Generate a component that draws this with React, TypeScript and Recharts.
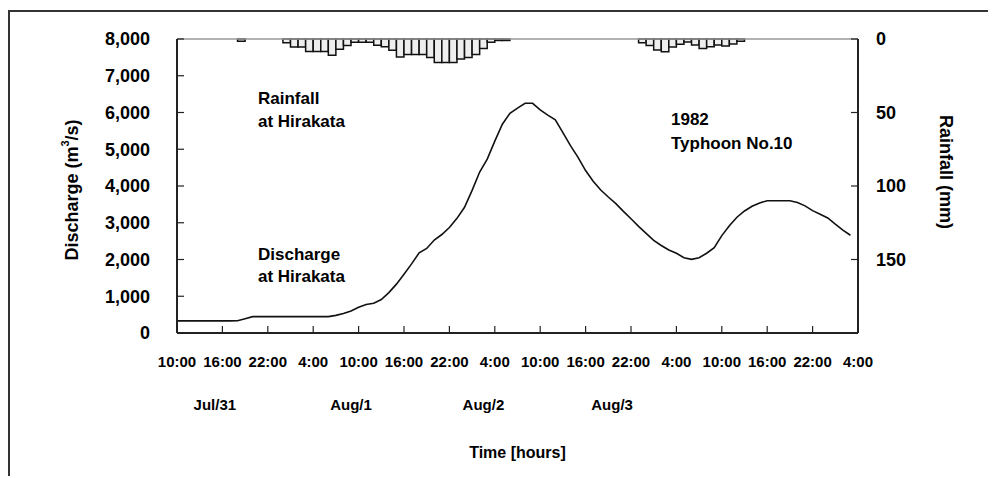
import { Bar, ComposedChart, Label, Line, ReferenceLine, XAxis, YAxis } from "recharts"

const FONT = "'Liberation Sans', Arial, Helvetica, sans-serif"

// hourly discharge at Hirakata (m3/s), hour 0 = 10:00 Jul/31
const discharge = [
  330, 330, 330, 330, 330, 330, 330, 330, 335, 390,
  445, 445, 445, 445, 445, 445, 445, 445, 445, 445,
  445, 480, 530, 600, 700, 775, 810, 910, 1100, 1330,
  1600, 1880, 2180, 2300, 2530, 2680, 2870, 3120, 3420, 3880,
  4380, 4730, 5220, 5680, 5980, 6120, 6250, 6250, 6070, 5930,
  5800, 5450, 5100, 4780, 4420, 4130, 3890, 3700, 3520, 3310,
  3110, 2900, 2710, 2520, 2380, 2260, 2170, 2050, 2005, 2050,
  2170, 2320, 2650, 2920, 3150, 3320, 3450, 3540, 3600, 3600,
  3600, 3600, 3550, 3460, 3330, 3230, 3130, 2960, 2800, 2660,
]

// hourly rainfall at Hirakata: hour the interval starts, and mm
const rainHours = [
  8, 14, 15, 16, 17, 18, 19, 20, 21, 22, 23, 24, 25, 26, 27, 28, 29, 30, 31, 32,
  33, 34, 35, 36, 37, 38, 39, 40, 41, 42, 43,
  61, 62, 63, 64, 65, 66, 67, 68, 69, 70, 71, 72, 73, 74,
]
const rainMm = [
  1.5, 2.5, 5.5, 5.5, 8.5, 8.5, 8.5, 11, 7, 4.5, 2.2, 2.2, 2.2, 4.3, 5.2, 7.7, 12.3, 10.5, 10.5, 10.5,
  12.5, 16, 16, 16, 13.6, 12.5, 10.5, 6.5, 2.2, 1, 1,
  2.5, 4.5, 7.5, 8.6, 5.5, 3.5, 2, 4, 6.5, 5.2, 4, 4.8, 3.4, 1.5,
]

const timeTicks = [0, 6, 12, 18, 24, 30, 36, 42, 48, 54, 60, 66, 72, 78, 84, 90]
const timeLabels = [
  "10:00", "16:00", "22:00", "4:00", "10:00", "16:00", "22:00", "4:00",
  "10:00", "16:00", "22:00", "4:00", "10:00", "16:00", "22:00", "4:00",
]
const dateTicks = [5, 23, 40.5, 57.5]
const dateLabels = ["Jul/31", "Aug/1", "Aug/2", "Aug/3"]
const dischargeTicks = [0, 1000, 2000, 3000, 4000, 5000, 6000, 7000, 8000]
const rainTicks = [0, 50, 100, 150]

// rainfall bars sit on the middle of their hour
const data = discharge.map((q, h) => {
  const k = rainHours.indexOf(h)
  return { t: h, tr: h + 0.5, q, rain: k >= 0 ? rainMm[k] : null }
})

const W = 986
const H = 466
const margin = { top: 27, right: 58, bottom: 15, left: 67 }
const plotW = W - margin.left - margin.right - 100 - 80
const barW = plotW / 90 - 0.02

const axisLine = { stroke: "#222", strokeWidth: 2 }
const tickLine = { stroke: "#222", strokeWidth: 1.2 }
const bold = { fill: "#000", fontWeight: 700, fontFamily: FONT }

function SideTitle({ viewBox, side }: any) {
  const { x, y, width, height } = viewBox
  const cx = side === "left" ? x - 5 : x + width + 8
  const cy = y + height / 2 + (side === "left" ? 4 : -14)
  const rot = side === "left" ? -90 : 90
  return (
    <text
      x={cx}
      y={cy}
      transform={`rotate(${rot}, ${cx}, ${cy})`}
      textAnchor="middle"
      dominantBaseline="central"
      fontSize={18}
      {...bold}
    >
      {side === "left" ? (
        <>
          <tspan>Discharge (m</tspan>
          <tspan dy={-7} fontSize={11}>3</tspan>
          <tspan dy={7}>/s)</tspan>
        </>
      ) : (
        "Rainfall (mm)"
      )}
    </text>
  )
}

export default function App() {
  return (
    <div
      style={{
        position: "relative",
        top: 2,
        width: W,
        height: H,
        borderTop: "2px solid #333",
        borderLeft: "2px solid #333",
      }}
    >
      <style>{"html,body{overflow:hidden}"}</style>
      <ComposedChart width={W} height={H} data={data} margin={margin}>
        <XAxis
          xAxisId="a1"
          dataKey="t"
          type="number"
          domain={[0, 90]}
          ticks={timeTicks}
          interval={0}
          tickFormatter={(v) => timeLabels[timeTicks.indexOf(v)]}
          tickSize={-7}
          tickMargin={30}
          height={50}
          axisLine={axisLine}
          tickLine={tickLine}
          tick={{ ...bold, fontSize: 15 }}
        />
        <XAxis
          xAxisId="a2"
          dataKey="t"
          type="number"
          domain={[0, 90]}
          ticks={dateTicks}
          interval={0}
          tickFormatter={(v) => dateLabels[dateTicks.indexOf(v)]}
          tickSize={0}
          tickMargin={16}
          height={80}
          axisLine={false}
          tickLine={false}
          tick={{ ...bold, fontSize: 15 }}
        >
          <Label value="Time [hours]" position="insideBottom" offset={5} style={{ ...bold, fontSize: 16 }} />
        </XAxis>
        <XAxis xAxisId="a3" dataKey="tr" type="number" domain={[0, 90]} hide />
        <YAxis
          yAxisId="q"
          domain={[0, 8000]}
          ticks={dischargeTicks}
          interval={0}
          width={100}
          tickSize={-7}
          tickMargin={34}
          tickFormatter={(v) => v.toLocaleString("en-US")}
          axisLine={axisLine}
          tickLine={tickLine}
          tick={{ ...bold, fontSize: 18 }}
        >
          <Label content={(p: any) => <SideTitle {...p} side="left" />} />
        </YAxis>
        <YAxis
          yAxisId="rain"
          orientation="right"
          domain={[0, 200]}
          reversed
          ticks={rainTicks}
          interval={0}
          width={80}
          tickSize={-7}
          tickMargin={25}
          axisLine={axisLine}
          tickLine={tickLine}
          tick={{ ...bold, fontSize: 18 }}
        >
          <Label content={(p: any) => <SideTitle {...p} side="right" />} />
        </YAxis>
        <ReferenceLine xAxisId="a1" yAxisId="q" y={8000} stroke="#999" strokeWidth={1.5} />
        <Bar
          xAxisId="a3"
          yAxisId="rain"
          dataKey="rain"
          barSize={barW}
          fill="#eeeeee"
          stroke="#111"
          strokeWidth={1.5}
          isAnimationActive={false}
        />
        <Line
          xAxisId="a1"
          yAxisId="q"
          dataKey="q"
          type="linear"
          stroke="#111"
          strokeWidth={1.6}
          dot={false}
          isAnimationActive={false}
        />
      </ComposedChart>
      <svg
        width={W}
        height={H}
        style={{ position: "absolute", left: 0, top: 0, pointerEvents: "none" }}
        fontFamily={FONT}
        fontWeight={700}
        fontSize={17}
      >
        <text x={248} y={92}>Rainfall</text>
        <text x={248} y={115}>at Hirakata</text>
        <text x={248} y={248}>Discharge</text>
        <text x={248} y={270}>at Hirakata</text>
        <text x={661} y={113}>1982</text>
        <text x={661} y={137}>Typhoon No.10</text>
      </svg>
    </div>
  )
}
